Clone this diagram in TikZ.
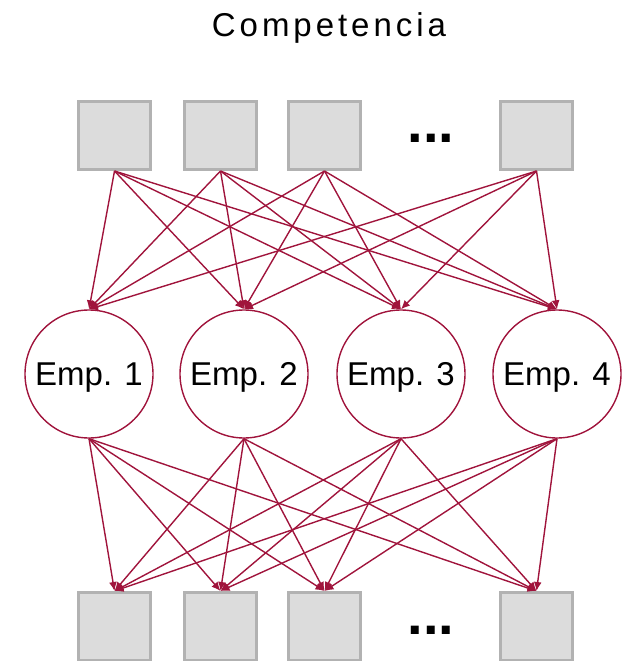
\documentclass[tikz,border=0pt]{standalone}
\usepackage{fontspec}
\setmainfont{Liberation Sans}
\newfontfamily\titlefont[LetterSpace=12]{Liberation Sans}
\usetikzlibrary{arrows.meta}

\definecolor{linkred}{RGB}{160,20,60}
\definecolor{boxgray}{RGB}{220,220,220}
\definecolor{boxedge}{RGB}{178,178,178}

\begin{document}
\begin{tikzpicture}[x=1pt, y=-1pt,
    caja/.style={draw=boxedge, fill=boxgray, line width=3pt, minimum width=72pt, minimum height=68pt, inner sep=0pt},
    emp/.style={circle, draw=linkred, line width=1.4pt, minimum size=128pt, inner sep=0pt, text height=24pt, text depth=1pt, font=\fontsize{33}{36}\selectfont},
    flecha/.style={draw=linkred, line width=1.4pt, -{Latex[length=9pt, width=8pt]}}]
    \useasboundingbox (0,0) rectangle (628,661);
    \clip (0,0) rectangle (628,661);

    % 标题
    \node[anchor=base, font=\titlefont\fontsize{33}{36}\selectfont] (titulo) at (329,37) {Competencia};

    % 上排方块
    \node[caja] (s1) at (114.5,135.5) {};
    \node[caja] (s2) at (220.5,135.5) {};
    \node[caja] (s3) at (324.5,135.5) {};
    \node[caja] (s4) at (536.5,135.5) {};
    \node[font=\bfseries\fontsize{56}{56}\selectfont] (puntos1) at (431,138) {...};

    % 员工圆圈
    \node[emp] (e1) at (89,374) {Emp. 1};
    \node[emp] (e2) at (244,374) {Emp. 2};
    \node[emp] (e3) at (401,374) {Emp. 3};
    \node[emp] (e4) at (557,374) {Emp. 4};

    % 下排方块
    \node[caja] (b1) at (114.5,626.5) {};
    \node[caja] (b2) at (220.5,626.5) {};
    \node[caja] (b3) at (324.5,626.5) {};
    \node[caja] (b4) at (536.5,626.5) {};
    \node[font=\bfseries\fontsize{56}{56}\selectfont] (puntos2) at (431,630) {...};

    % 连线
    \foreach \i in {1,...,4}
        \foreach \j in {1,...,4} {
            \draw[flecha] (s\i.south) -- (e\j.north);
            \draw[flecha] (e\j.south) -- (b\i.north);
        }
\end{tikzpicture}
\end{document}
